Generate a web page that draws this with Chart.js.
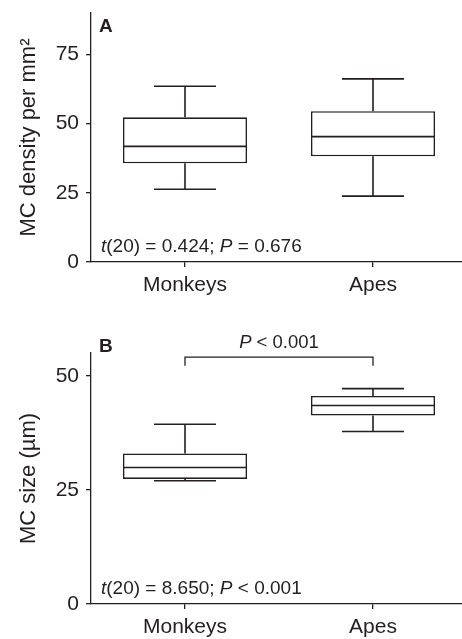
<!DOCTYPE html>
<html>
<head>
<meta charset="utf-8">
<script src="https://cdn.jsdelivr.net/npm/chart.js@4.4.1/dist/chart.umd.min.js"></script>
<style>
  html, body { margin: 0; padding: 0; background: #fff; overflow: hidden; }
  .wrap { position: absolute; left: 0; width: 468px; }
  #wrapA { top: 0; height: 305px; }
  #wrapB { top: 305px; height: 334px; }
</style>
</head>
<body>
<div class="wrap" id="wrapA"><canvas id="densityChart"></canvas></div>
<div class="wrap" id="wrapB"><canvas id="sizeChart"></canvas></div>
<script>
var groups = ['Monkeys', 'Apes'];

// panel A - MC density per mm2
var densityLow = [26.3, 23.8];
var densityQ1 = [35.7, 38.2];
var densityMedian = [41.8, 45.3];
var densityQ3 = [52.3, 54.5];
var densityHigh = [63.5, 66.2];
var densityTicks = [0, 25, 50, 75];

// panel B - MC size (um)
var sizeLow = [27.0, 37.8];
var sizeQ1 = [27.4, 41.3];
var sizeMedian = [29.9, 43.5];
var sizeQ3 = [33.0, 45.6];
var sizeHigh = [39.4, 47.2];
var sizeTicks = [0, 25, 50];

var ink = '#231f20';
var family = '"Liberation Sans", Arial, Helvetica, sans-serif';

// draw text made of plain / italic pieces, left to right
function drawParts(ctx, parts, x, y, size) {
    parts.forEach(function(p) {
        ctx.font = (p.italic ? 'italic ' : '') + size + 'px ' + family;
        ctx.fillText(p.text, x, y);
        x += ctx.measureText(p.text).width;
    });
}

var boxPlugin = {
    id: 'boxExtras',
    afterDatasetsDraw: function(chart, args, opts) {
        var ctx = chart.ctx;
        var ys = chart.scales.y;
        var area = chart.chartArea;
        var bars = chart.getDatasetMeta(0).data;
        ctx.save();
        ctx.strokeStyle = ink;
        ctx.lineWidth = 1.6;
        bars.forEach(function(bar, i) {
            var half = bar.width / 2, cap = bar.width / 4;
            var yLow = ys.getPixelForValue(opts.low[i]);
            var yQ1 = ys.getPixelForValue(opts.q1[i]);
            var yMed = ys.getPixelForValue(opts.median[i]);
            var yQ3 = ys.getPixelForValue(opts.q3[i]);
            var yHigh = ys.getPixelForValue(opts.high[i]);
            ctx.beginPath();
            ctx.moveTo(bar.x, yQ3); ctx.lineTo(bar.x, yHigh);
            ctx.moveTo(bar.x - cap, yHigh); ctx.lineTo(bar.x + cap, yHigh);
            ctx.moveTo(bar.x, yQ1); ctx.lineTo(bar.x, yLow);
            ctx.moveTo(bar.x - cap, yLow); ctx.lineTo(bar.x + cap, yLow);
            ctx.moveTo(bar.x - half, yMed); ctx.lineTo(bar.x + half, yMed);
            ctx.stroke();
        });

        ctx.fillStyle = ink;
        ctx.textBaseline = 'alphabetic';
        ctx.textAlign = 'left';
        ctx.font = 'bold 19px ' + family;
        ctx.fillText(opts.panel, area.left + 8, area.top + opts.panelDy);
        drawParts(ctx, opts.stats, area.left + 10, area.bottom - 10, 19);

        if (opts.bracket) {
            var x0 = bars[0].x, x1 = bars[1].x;
            var yb = ys.getPixelForValue(opts.bracket.top);
            var yd = ys.getPixelForValue(opts.bracket.drop);
            ctx.lineWidth = 1.3;
            ctx.beginPath();
            ctx.moveTo(x0, yd); ctx.lineTo(x0, yb); ctx.lineTo(x1, yb); ctx.lineTo(x1, yd);
            ctx.stroke();
            var w = 0;
            opts.bracket.label.forEach(function(p) {
                ctx.font = (p.italic ? 'italic ' : '') + '18.5px ' + family;
                w += ctx.measureText(p.text).width;
            });
            drawParts(ctx, opts.bracket.label, (x0 + x1) / 2 - w / 2, yb - 9, 18.5);
        }
        ctx.restore();
    }
};

function makeChart(id, cfg) {
    return new Chart(document.getElementById(id).getContext('2d'), {
        type: 'bar',
        data: {
            labels: groups,
            datasets: [{
                data: groups.map(function(g, i) { return [cfg.q1[i], cfg.q3[i]]; }),
                backgroundColor: '#ffffff',
                borderColor: ink,
                borderWidth: 1.6,
                borderSkipped: false,
                barPercentage: 0.66,
                categoryPercentage: 1.0
            }]
        },
        options: {
            responsive: true,
            maintainAspectRatio: false,
            animation: false,
            layout: { padding: { top: cfg.top, right: 1, left: 0, bottom: 0 } },
            plugins: {
                legend: { display: false },
                tooltip: { enabled: false },
                boxExtras: cfg
            },
            scales: {
                x: {
                    afterFit: function(scale) {
                        scale.height = cfg.xHeight;
                        scale.paddingLeft = 0; scale.paddingRight = 0;
                    },
                    grid: { display: true, drawOnChartArea: false, offset: false, tickLength: 5, color: ink, lineWidth: 1.3 },
                    border: { display: true, color: ink, width: 1.3 },
                    ticks: { color: ink, font: { family: family, size: 21 }, padding: 6 }
                },
                y: {
                    min: 0,
                    max: cfg.max,
                    afterFit: function(scale) {
                        scale.width = 91;
                        scale.paddingTop = 0; scale.paddingBottom = 0;
                    },
                    afterBuildTicks: function(scale) {
                        scale.ticks = cfg.ticks.map(function(v) { return { value: v }; });
                    },
                    grid: { display: true, drawOnChartArea: false, tickLength: 5, color: ink, lineWidth: 1.3 },
                    border: { display: true, color: ink, width: 1.3 },
                    ticks: { color: ink, font: { family: family, size: 21 }, padding: 7 },
                    title: {
                        display: true,
                        text: cfg.title,
                        color: ink,
                        font: { family: family, size: 22 },
                        padding: { top: 16, bottom: 0 }
                    }
                }
            }
        },
        plugins: [boxPlugin]
    });
}

makeChart('densityChart', {
    low: densityLow, q1: densityQ1, median: densityMedian, q3: densityQ3, high: densityHigh,
    ticks: densityTicks, max: 90, top: 13, xHeight: 43,
    title: 'MC density per mm\u00b2',
    panel: 'A', panelDy: 19,
    stats: [{ text: 't', italic: true }, { text: '(20) = 0.424; ' }, { text: 'P', italic: true }, { text: ' = 0.676' }]
});

makeChart('sizeChart', {
    low: sizeLow, q1: sizeQ1, median: sizeMedian, q3: sizeQ3, high: sizeHigh,
    ticks: sizeTicks, max: 55, top: 48, xHeight: 35,
    title: 'MC size (\u00b5m)',
    panel: 'B', panelDy: -1,
    stats: [{ text: 't', italic: true }, { text: '(20) = 8.650; ' }, { text: 'P', italic: true }, { text: ' < 0.001' }],
    bracket: { top: 54.1, drop: 52.2, label: [{ text: 'P', italic: true }, { text: ' < 0.001' }] }
});
</script>
</body>
</html>
